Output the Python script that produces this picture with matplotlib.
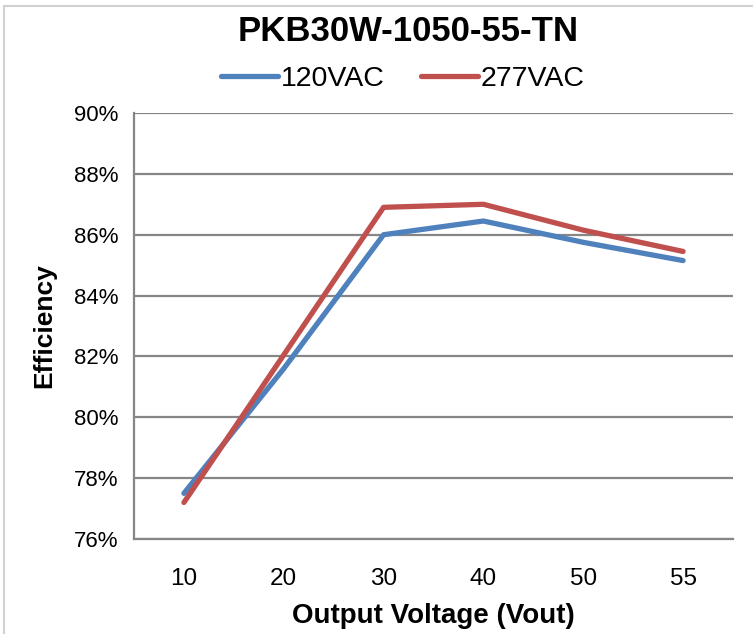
import matplotlib.pyplot as plt
from matplotlib.patches import Rectangle
from matplotlib.ticker import FuncFormatter

plt.rcParams["font.family"] = ["Liberation Sans", "DejaVu Sans"]

# Data.
voltages = ["10", "20", "30", "40", "50", "55"]
eff_120vac = [77.5, 81.6, 86.0, 86.45, 85.75, 85.15]
eff_277vac = [77.2, 82.05, 86.9, 87.0, 86.15, 85.45]
y_ticks = [76, 78, 80, 82, 84, 86, 88, 90]

blue = "#4F81BD"
red = "#C0504D"
grid_grey = "#868686"

fig = plt.figure(figsize=(7.53, 6.34), dpi=100)
ax = fig.add_axes([134 / 753, 95 / 634, 599 / 753, 426 / 634])

x = list(range(len(voltages)))
ax.plot(x, eff_120vac, color=blue, linewidth=3.8, solid_capstyle="round", label="120VAC")
ax.plot(x, eff_277vac, color=red, linewidth=3.8, solid_capstyle="round", label="277VAC")

# Axes, ticks and grid.
ax.set_xlim(-0.5, len(voltages) - 0.5)
ax.set_ylim(76, 90)
ax.set_xticks(x)
ax.set_xticklabels(voltages, fontsize=17.5)
ax.set_yticks(y_ticks)
ax.yaxis.set_major_formatter(FuncFormatter(lambda v, _: f"{v:.0f}%"))
for lbl in ax.get_yticklabels():
    lbl.set_fontsize(16)
ax.tick_params(axis="x", length=0, pad=21)
ax.tick_params(axis="y", length=0, pad=11)
ax.grid(axis="y", color=grid_grey, linewidth=1.6)
ax.set_axisbelow(True)
for side in ["top", "right"]:
    ax.spines[side].set_visible(False)
for side in ["bottom", "left"]:
    ax.spines[side].set_color(grid_grey)
    ax.spines[side].set_linewidth(1.6)

# Labels, title and legend.
ax.set_xlabel("Output Voltage (Vout)", fontsize=20, fontweight="bold", labelpad=9)
ax.set_ylabel("Efficiency", fontsize=19, fontweight="bold", labelpad=13)
fig.text(0.542, 0.951, "PKB30W-1050-55-TN", fontsize=25, fontweight="bold", ha="center", va="center")
fig.legend(loc="center", bbox_to_anchor=(0.535, 0.876), ncol=2, frameon=False, fontsize=20.5,
           handlelength=2.0, handletextpad=0.1, columnspacing=1.3)

# Light frame around the whole chart.
fig.patches.append(Rectangle((4 / 753, -0.01), 1.0, 1.005 - 3 / 634, transform=fig.transFigure,
                             fill=False, edgecolor="#D0D0D0", linewidth=1.5))

fig.savefig("out.png", dpi=100)
